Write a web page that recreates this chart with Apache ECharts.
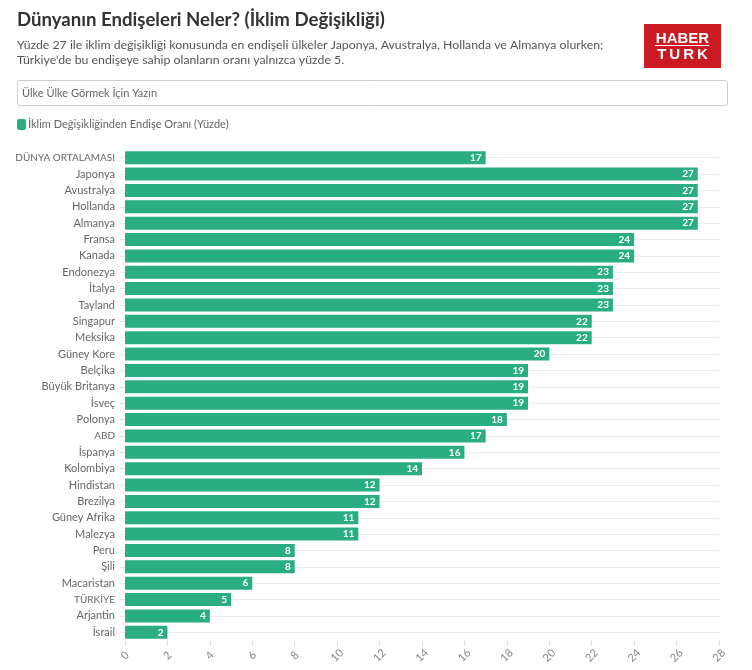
<!DOCTYPE html>
<html>
<head>
<meta charset="utf-8">
<style>
  html, body { margin: 0; padding: 0; background: #fff; }
  #chart { width: 752px; height: 670px; }
</style>
<script src="https://cdn.jsdelivr.net/npm/echarts@6/dist/echarts.min.js"></script>
</head>
<body>
<div id="chart"></div>
<script>
const countries = [
  'DÜNYA ORTALAMASI', 'Japonya', 'Avustralya', 'Hollanda', 'Almanya', 'Fransa',
  'Kanada', 'Endonezya', 'İtalya', 'Tayland', 'Singapur', 'Meksika',
  'Güney Kore', 'Belçika', 'Büyük Britanya', 'İsveç', 'Polonya', 'ABD',
  'İspanya', 'Kolombiya', 'Hindistan', 'Brezilya', 'Güney Afrika', 'Malezya',
  'Peru', 'Şili', 'Macaristan', 'TÜRKİYE', 'Arjantin', 'İsrail'
]
const concern = [
  17, 27, 27, 27, 27, 24,
  24, 23, 23, 23, 22, 22,
  20, 19, 19, 19, 18, 17,
  16, 14, 12, 12, 11, 11,
  8, 8, 6, 5, 4, 2
]
const seriesName = 'İklim Değişikliğinden Endişe Oranı (Yüzde)'
const titleText = 'Dünyanın Endişeleri Neler? (İklim Değişikliği)'
const subtitleLines = [
  'Yüzde 27 ile iklim değişikliği konusunda en endişeli ülkeler Japonya, Avustralya, Hollanda ve Almanya olurken;',
  "Türkiye'de bu endişeye sahip olanların oranı yalnızca yüzde 5."
]
const searchHint = 'Ülke Ülke Görmek İçin Yazın'

const font = 'Lato'
const green = '#2bad84'

const myChart = echarts.init(document.getElementById('chart'), null, { renderer: 'canvas' })

// all-caps names run wide in Lato, so they get a smaller size
const countryLabel = (name) => (name === name.toLocaleUpperCase('tr') ? `{caps|${name}}` : name)

myChart.setOption({
  animation: false,
  backgroundColor: '#fff',
  textStyle: { fontFamily: font },
  grid: { left: 125, right: 33, top: 149.5, bottom: 29.5 },
  legend: {
    left: 17,
    top: 119,
    padding: 0,
    itemWidth: 9,
    itemHeight: 11,
    itemGap: 4,
    icon: 'roundRect',
    textStyle: { color: '#666', fontSize: 11, fontFamily: font, padding: [0, 0, 0, -3] }
  },
  xAxis: {
    type: 'value',
    min: 0,
    max: 28,
    interval: 2,
    axisLine: { show: false },
    axisTick: { show: true, length: 5, lineStyle: { color: '#e0e0e0' } },
    axisLabel: { rotate: 45, align: 'center', verticalAlign: 'middle', color: '#888', fontSize: 11, margin: 15 },
    splitLine: { show: false }
  },
  yAxis: {
    type: 'category',
    inverse: true,
    data: countries,
    axisLine: { show: false },
    axisTick: { show: true, alignWithLabel: true, length: 5, lineStyle: { color: '#e6e6e6' } },
    axisLabel: {
      color: '#666',
      fontSize: 11,
      margin: 10,
      formatter: countryLabel,
      rich: { caps: { color: '#666', fontSize: 10, fontFamily: font } }
    },
    splitLine: { show: true, alignWithLabel: true, lineStyle: { color: '#ececec' } }
  },
  series: [{
    name: seriesName,
    type: 'bar',
    data: concern,
    barWidth: 13,
    itemStyle: { color: green },
    label: {
      show: true,
      position: 'insideRight',
      distance: 4,
      color: '#fff',
      fontSize: 10,
      fontWeight: 'bold'
    }
  }],
  graphic: [
    { type: 'text', left: 17, top: 10, style: { text: titleText, font: 'bold 18.6px ' + font, fill: '#333' } },
    { type: 'text', left: 17, top: 39, style: { text: subtitleLines[0], font: '12.3px ' + font, fill: '#555' } },
    { type: 'text', left: 17, top: 54, style: { text: subtitleLines[1], font: '12.3px ' + font, fill: '#555' } },
    { type: 'rect', shape: { x: 644, y: 24, width: 77, height: 44 }, style: { fill: '#cb1a22' } },
    { type: 'text', x: 682.5, y: 38.5, style: { text: 'HABER', font: 'bold 15px "Liberation Sans"', fill: '#fff', align: 'center', verticalAlign: 'middle' } },
    { type: 'rect', shape: { x: 655, y: 45, width: 54, height: 1 }, style: { fill: '#fff' } },
    { type: 'text', x: 682.5, y: 55, style: { text: 'T\u2009U\u2009R\u2009K', font: 'bold 15px "Liberation Sans"', fill: '#fff', align: 'center', verticalAlign: 'middle' } },
    { type: 'rect', shape: { x: 17.5, y: 80.5, width: 710, height: 25, r: 2 }, style: { fill: '#fff', stroke: '#ccc', lineWidth: 1 } },
    { type: 'text', left: 22, top: 88, style: { text: searchHint, font: '11px ' + font, fill: '#666' } }
  ]
})
</script>
</body>
</html>
